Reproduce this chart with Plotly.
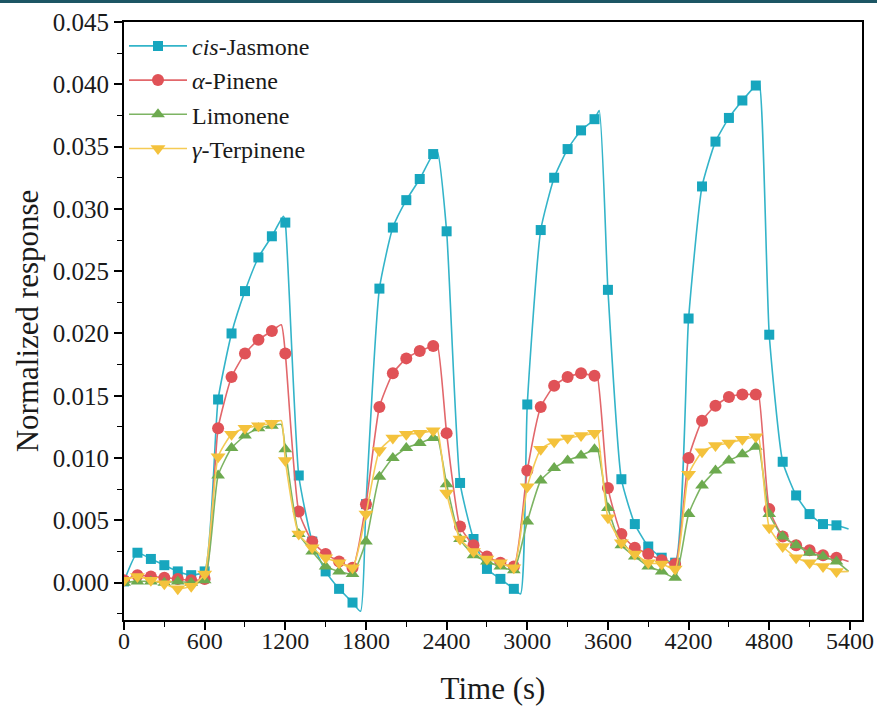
import plotly.graph_objects as go

# ---------------- data ----------------
time_markers = list(range(0, 5400, 100))  # 0 .. 5300 s

cis_jasmone = [0.0001, 0.0024, 0.0019, 0.0014, 0.0009, 0.0006, 0.0009, 0.0147, 0.0200, 0.0234,
               0.0261, 0.0278, 0.0289, 0.0086, 0.0033, 0.0009, -0.0005, -0.0016, 0.0063, 0.0236,
               0.0285, 0.0307, 0.0324, 0.0344, 0.0282, 0.0080, 0.0035, 0.0011, 0.0003, -0.0005,
               0.0143, 0.0283, 0.0325, 0.0348, 0.0363, 0.0372, 0.0235, 0.0083, 0.0047, 0.0029,
               0.0020, 0.0016, 0.0212, 0.0318, 0.0354, 0.0373, 0.0387, 0.0399, 0.0199, 0.0097,
               0.0070, 0.0055, 0.0047, 0.0046]
alpha_pinene = [0.0002, 0.0006, 0.0005, 0.0004, 0.0003, 0.0002, 0.0003, 0.0124, 0.0165, 0.0184,
                0.0195, 0.0202, 0.0184, 0.0057, 0.0033, 0.0023, 0.0017, 0.0012, 0.0063, 0.0141,
                0.0168, 0.0180, 0.0186, 0.0190, 0.0120, 0.0045, 0.0030, 0.0021, 0.0016, 0.0013,
                0.0090, 0.0141, 0.0158, 0.0165, 0.0168, 0.0166, 0.0076, 0.0039, 0.0028, 0.0023,
                0.0018, 0.0015, 0.0100, 0.0130, 0.0142, 0.0149, 0.0151, 0.0151, 0.0059, 0.0037,
                0.0030, 0.0026, 0.0022, 0.0020]
limonene = [0.0000, 0.0001, 0.0001, 0.0000, 0.0001, 0.0000, 0.0002, 0.0086, 0.0108, 0.0118,
            0.0124, 0.0126, 0.0107, 0.0039, 0.0025, 0.0013, 0.0009, 0.0007, 0.0033, 0.0085,
            0.0100, 0.0108, 0.0112, 0.0116, 0.0079, 0.0035, 0.0022, 0.0017, 0.0013, 0.0010,
            0.0049, 0.0082, 0.0092, 0.0098, 0.0102, 0.0107, 0.0060, 0.0030, 0.0021, 0.0013,
            0.0009, 0.0004, 0.0055, 0.0078, 0.0090, 0.0098, 0.0103, 0.0109, 0.0055, 0.0037,
            0.0030, 0.0024, 0.0021, 0.0017]
gamma_terpinene = [0.0002, 0.0005, 0.0002, -0.0001, -0.0005, -0.0003, 0.0007, 0.0101, 0.0119, 0.0124,
                   0.0126, 0.0128, 0.0098, 0.0039, 0.0028, 0.0020, 0.0016, 0.0012, 0.0055, 0.0106,
                   0.0116, 0.0119, 0.0120, 0.0122, 0.0072, 0.0035, 0.0025, 0.0019, 0.0016, 0.0012,
                   0.0077, 0.0107, 0.0113, 0.0116, 0.0118, 0.0120, 0.0052, 0.0032, 0.0023, 0.0016,
                   0.0015, 0.0011, 0.0087, 0.0105, 0.0110, 0.0112, 0.0115, 0.0117, 0.0044, 0.0029,
                   0.0020, 0.0016, 0.0013, 0.0009]

# extra points of the continuous curves (peaks, troughs, end)
cis_extra_t = [1185, 1760, 2330, 2950, 3535, 4725, 5390]
cis_extra_v = [0.0294, -0.0023, 0.0346, -0.0009, 0.0379, 0.0401, 0.0043]
pin_extra_t = [1170, 2330, 3520, 4720, 5390]
pin_extra_v = [0.0207, 0.0191, 0.0166, 0.0151, 0.0017]
lim_extra_t = [1170, 2330, 3520, 4720, 5390]
lim_extra_v = [0.0127, 0.0117, 0.0108, 0.0110, 0.0009]
ter_extra_t = [1170, 2330, 3520, 4720, 5390]
ter_extra_v = [0.0130, 0.0123, 0.0121, 0.0118, 0.0009]

names = ["<i>cis</i>-Jasmone", "<i>α</i>-Pinene", "Limonene", "<i>γ</i>-Terpinene"]
colors = ["#17A6BE", "#E05257", "#6DAA4F", "#F4C23C"]
line_colors = ["#33B4C9", "#E2676B", "#7DB463", "#F5CB55"]
symbols = ["square", "circle", "triangle-up", "triangle-down"]
sizes = [10, 12, 12, 13]

series = [cis_jasmone, alpha_pinene, limonene, gamma_terpinene]
extras = [(cis_extra_t, cis_extra_v), (pin_extra_t, pin_extra_v),
          (lim_extra_t, lim_extra_v), (ter_extra_t, ter_extra_v)]

fig = go.Figure()
for i, (vals, (et, ev)) in enumerate(zip(series, extras)):
    pts = sorted(list(zip(time_markers, vals)) + list(zip(et, ev)))
    lx = [p[0] for p in pts]
    ly = [p[1] for p in pts]
    fig.add_trace(go.Scatter(x=lx, y=ly, mode="lines", line=dict(color=line_colors[i], width=1.6,
                             shape="spline", smoothing=0.5),
                             showlegend=False, legendgroup=str(i), hoverinfo="skip"))
    fig.add_trace(go.Scatter(x=time_markers, y=vals, mode="markers",
                             marker=dict(symbol=symbols[i], size=sizes[i], color=colors[i]),
                             showlegend=False, legendgroup=str(i)))
    fig.add_trace(go.Scatter(x=[None], y=[None], mode="lines+markers", name=names[i],
                             line=dict(color=line_colors[i], width=1.6),
                             marker=dict(symbol=symbols[i], size=sizes[i], color=colors[i]),
                             legendgroup=str(i)))

font_family = "Liberation Serif"
axis_common = dict(showline=True, linecolor="black", linewidth=1.8, mirror=True,
                   ticks="outside", tickcolor="black", tickwidth=1.6, ticklen=8,
                   showgrid=False, zeroline=False, automargin=False,
                   ticklabeloverflow="allow")

fig.update_xaxes(range=[0, 5490], tick0=0, dtick=600,
                 tickfont=dict(family=font_family, size=24, color="#1a1a1a"),
                 ticklabelstandoff=-10,
                 minor=dict(ticks="outside", dtick=300, ticklen=5, tickcolor="black", tickwidth=1.4),
                 title=dict(text="Time (s)", font=dict(family=font_family, size=31, color="#1a1a1a"),
                            standoff=25),
                 **axis_common)
fig.update_yaxes(range=[-0.003, 0.045], tick0=0, dtick=0.005, tickformat=".3f",
                 tickfont=dict(family=font_family, size=25, color="#1a1a1a"),
                 minor=dict(ticks="outside", dtick=0.0025, ticklen=5, tickcolor="black", tickwidth=1.4),
                 title=dict(text="Normalized response", font=dict(family=font_family, size=31, color="#1a1a1a"),
                            standoff=5),
                 **axis_common)

fig.update_layout(
    width=877, height=710,
    margin=dict(l=124, r=15, t=22, b=90),
    paper_bgcolor="white", plot_bgcolor="white",
    legend=dict(x=0.0, y=0.997, xanchor="left", yanchor="top", itemwidth=58,
                bgcolor="rgba(255,255,255,0)", font=dict(family=font_family, size=24, color="#1a1a1a"),
                traceorder="normal"),
    shapes=[dict(type="rect", xref="paper", yref="paper", x0=-0.2, x1=1.1,
                 y0=1 + 19 / 598, y1=1 + 23 / 598, fillcolor="#1C5664", line=dict(width=0))],
)

fig.write_html("out.html", config={"displayModeBar": False},
               post_script="document.body.style.margin='0px';")
